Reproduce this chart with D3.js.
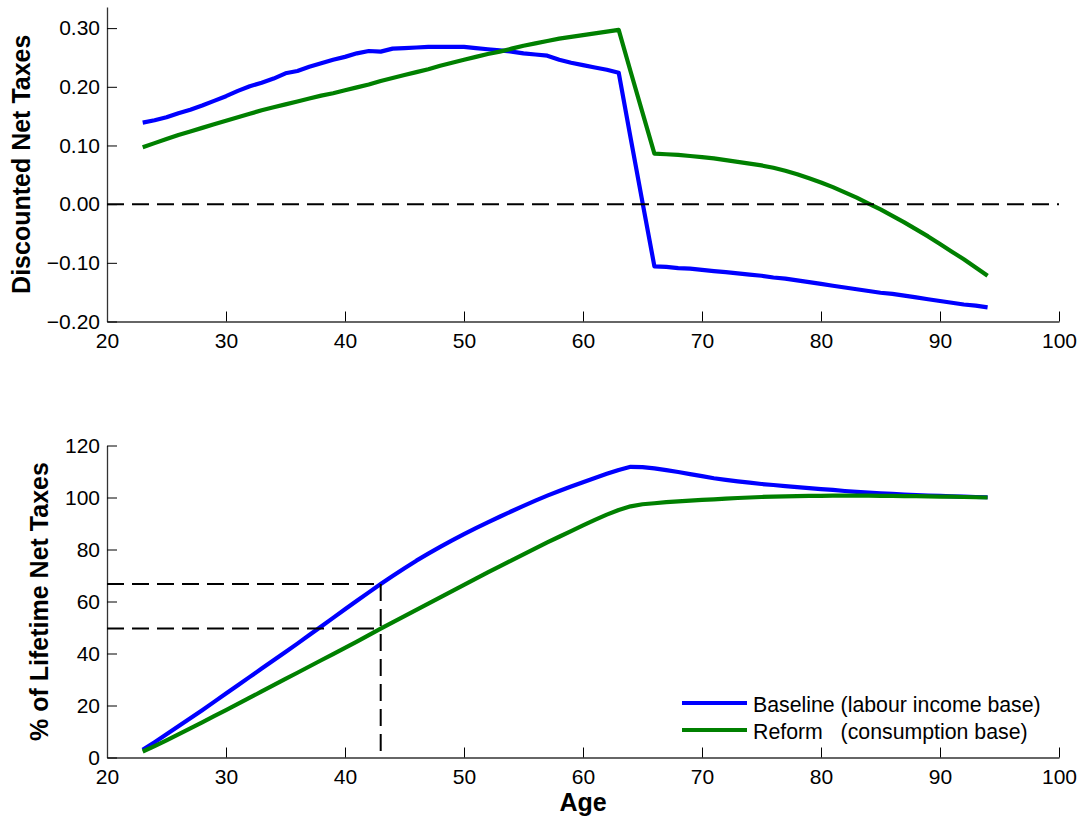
<!DOCTYPE html>
<html>
  <head>
    <meta charset="utf-8" />
    <script src="https://d3js.org/d3.v7.min.js"></script>
    <style>
      body { margin: 0; background: #fff; }
      text { font-family: "Liberation Sans", Arial, Helvetica, sans-serif; fill: #000; }
      .axis text { font-size: 21px; }
      .axis path { stroke: #333; stroke-width: 1.3px; }
      .axis line { stroke: #000; }
      .ylab, .xlab { font-size: 25px; font-weight: bold; }
      .series { fill: none; stroke-width: 4.2px; stroke-linejoin: round; }
      .guide { fill: none; stroke: #000; stroke-width: 2px; stroke-dasharray: 17,8; }
      .legend text { font-size: 21.3px; white-space: pre; }
    </style>
  </head>
  <body>
    <svg id="chart" width="1081" height="819"></svg>

    <script>
      // ages, one point per year
      var ages = d3.range(23, 95);

      // discounted net taxes (top panel)
      var baseDiscounted = [
        0.139, 0.143, 0.148, 0.155, 0.161, 0.168, 0.176, 0.184, 0.193, 0.201,
        0.207, 0.214, 0.223, 0.227, 0.234, 0.240, 0.246, 0.251, 0.257, 0.261,
        0.260, 0.265, 0.266, 0.267, 0.268, 0.268, 0.268, 0.268, 0.266, 0.264,
        0.262, 0.260, 0.257, 0.255, 0.253, 0.246, 0.241, 0.237, 0.233, 0.229,
        0.224, 0.113, 0.003, -0.106, -0.107, -0.109, -0.110, -0.112, -0.114, -0.116,
        -0.118, -0.120, -0.122, -0.125, -0.127, -0.130, -0.133, -0.136, -0.139, -0.142,
        -0.145, -0.148, -0.151, -0.153, -0.156, -0.159, -0.162, -0.165, -0.168, -0.171,
        -0.173, -0.176
      ];
      var reformDiscounted = [
        0.097, 0.104, 0.111, 0.118, 0.124, 0.130, 0.136, 0.142, 0.148, 0.154,
        0.160, 0.165, 0.170, 0.175, 0.180, 0.185, 0.189, 0.194, 0.199, 0.204,
        0.210, 0.215, 0.220, 0.225, 0.230, 0.236, 0.241, 0.246, 0.251, 0.256,
        0.260, 0.265, 0.270, 0.274, 0.278, 0.282, 0.285, 0.288, 0.291, 0.294,
        0.297, 0.226, 0.156, 0.086, 0.085, 0.084, 0.082, 0.080, 0.078, 0.075,
        0.072, 0.069, 0.066, 0.062, 0.057, 0.051, 0.044, 0.037, 0.029, 0.020,
        0.011, 0.001, -0.009, -0.020, -0.031, -0.043, -0.055, -0.068, -0.081, -0.094,
        -0.108, -0.122
      ];

      // cumulative % of lifetime net taxes (bottom panel)
      var baseCumulative = [
        3.0, 5.9, 8.9, 12.0, 15.1, 18.2, 21.4, 24.6, 27.8, 31.0,
        34.2, 37.4, 40.6, 43.8, 47.1, 50.4, 53.7, 57.0, 60.3, 63.5,
        66.7, 69.8, 72.8, 75.7, 78.4, 81.0, 83.5, 85.9, 88.2, 90.4,
        92.6, 94.7, 96.8, 98.8, 100.7, 102.5, 104.2, 105.9, 107.5, 109.1,
        110.6, 111.8, 111.7, 111.2, 110.5, 109.8, 109.0, 108.2, 107.4, 106.8,
        106.2, 105.7, 105.2, 104.8, 104.4, 104.0, 103.6, 103.2, 102.9, 102.5,
        102.2, 101.9, 101.6, 101.4, 101.1, 100.9, 100.7, 100.6, 100.4, 100.3,
        100.2, 100.1
      ];
      var reformCumulative = [
        2.3, 4.4, 6.6, 8.9, 11.2, 13.5, 15.9, 18.2, 20.6, 23.0,
        25.4, 27.8, 30.2, 32.6, 35.0, 37.4, 39.8, 42.2, 44.6, 47.1,
        49.6, 52.0, 54.4, 56.8, 59.2, 61.6, 64.0, 66.4, 68.8, 71.2,
        73.5, 75.8, 78.1, 80.4, 82.7, 84.9, 87.1, 89.3, 91.4, 93.4,
        95.2, 96.6, 97.4, 97.8, 98.2, 98.5, 98.8, 99.1, 99.3, 99.6,
        99.8, 100.0, 100.2, 100.3, 100.4, 100.5, 100.6, 100.6, 100.7, 100.7,
        100.7, 100.7, 100.6, 100.6, 100.5, 100.5, 100.4, 100.3, 100.3, 100.2,
        100.1, 100.0
      ];

      // dashed guides in the bottom panel
      var guideAge = 43;
      var guideLevels = [66.7, 49.6];

      var topTicks = [-0.2, -0.1, 0, 0.1, 0.2, 0.3];
      var bottomTicks = [0, 20, 40, 60, 80, 100, 120];
      var ageTicks = [20, 30, 40, 50, 60, 70, 80, 90, 100];

      var seriesNames = ["Baseline (labour income base)", "Reform   (consumption base)"];
      var seriesColors = ["#0000ff", "#008000"];

      var svg = d3.select("#chart");

      var x = d3.scaleLinear().domain([20, 100]).range([107, 1059]);
      var yTop = d3.scaleLinear().domain([-0.2, 0.336]).range([321.5, 7]);
      var yBot = d3.scaleLinear().domain([0, 120]).range([757.5, 445.5]);

      function drawPanel(y, ticks, fmt, series, label, labelX) {
        var g = svg.append("g");

        g.append("g")
          .attr("class", "axis")
          .attr("transform", "translate(0," + y.range()[0] + ")")
          .call(d3.axisBottom(x).tickValues(ageTicks).tickSizeInner(-10).tickSizeOuter(0).tickPadding(12));

        g.append("g")
          .attr("class", "axis")
          .attr("transform", "translate(" + x.range()[0] + ",0)")
          .call(d3.axisLeft(y).tickValues(ticks).tickFormat(fmt).tickSizeInner(-10).tickSizeOuter(0).tickPadding(7));

        var line = d3.line()
          .x(function(d, i) { return x(ages[i]); })
          .y(function(d) { return y(d); });

        series.forEach(function(s, i) {
          g.append("path")
            .attr("class", "series")
            .attr("stroke", seriesColors[i])
            .attr("d", line(s));
        });

        var cy = (y.range()[0] + y.range()[1]) / 2;
        g.append("text")
          .attr("class", "ylab")
          .attr("text-anchor", "middle")
          .attr("transform", "translate(" + labelX + "," + cy + ") rotate(-90)")
          .text(label);

        return g;
      }

      var topPanel = drawPanel(yTop, topTicks, d3.format(".2f"),
        [baseDiscounted, reformDiscounted], "Discounted Net Taxes", 30);

      // zero line
      topPanel.append("line")
        .attr("class", "guide")
        .attr("x1", x(20)).attr("x2", x(100))
        .attr("y1", yTop(0)).attr("y2", yTop(0));

      var botPanel = drawPanel(yBot, bottomTicks, d3.format("d"),
        [baseCumulative, reformCumulative], "% of Lifetime Net Taxes", 48);

      guideLevels.forEach(function(v) {
        botPanel.append("line")
          .attr("class", "guide")
          .attr("x1", x(20)).attr("x2", x(guideAge))
          .attr("y1", yBot(v)).attr("y2", yBot(v));
      });
      botPanel.append("line")
        .attr("class", "guide")
        .attr("x1", x(guideAge)).attr("x2", x(guideAge))
        .attr("y1", yBot(d3.max(guideLevels))).attr("y2", yBot(0));

      svg.append("text")
        .attr("class", "xlab")
        .attr("text-anchor", "middle")
        .attr("x", (x.range()[0] + x.range()[1]) / 2)
        .attr("y", 811)
        .text("Age");

      // legend
      var legend = svg.append("g").attr("class", "legend");
      seriesNames.forEach(function(name, i) {
        var ly = 703 + i * 27;
        legend.append("line")
          .attr("x1", 682).attr("x2", 747)
          .attr("y1", ly).attr("y2", ly)
          .attr("stroke", seriesColors[i])
          .attr("stroke-width", 4);
        legend.append("text")
          .attr("x", 753)
          .attr("y", ly + 8.5)
          .attr("xml:space", "preserve")
          .text(name);
      });
    </script>
  </body>
</html>
